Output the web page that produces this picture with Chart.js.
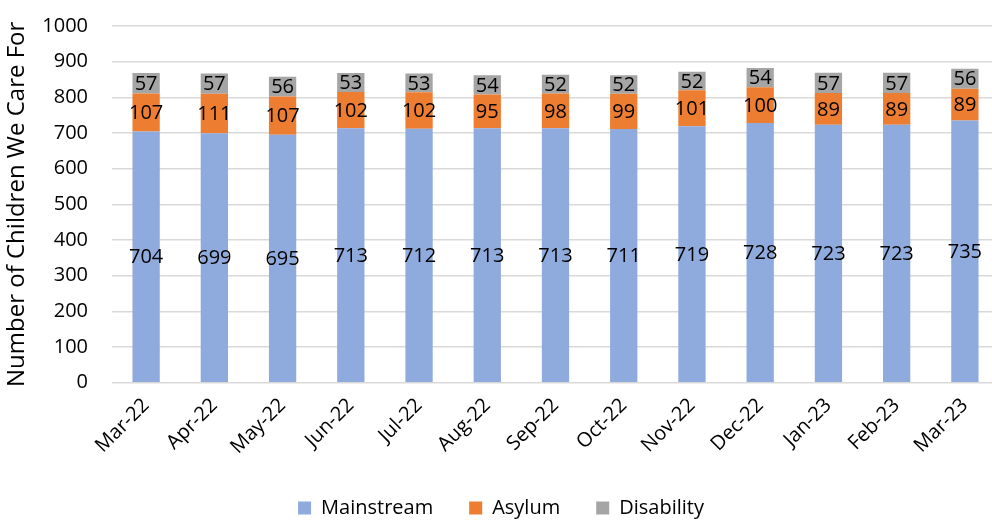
<!DOCTYPE html>
<html>
<head>
<meta charset="utf-8">
<script src="https://cdn.jsdelivr.net/npm/chart.js@4/dist/chart.umd.min.js"></script>
<style>
  html, body { margin: 0; padding: 0; background: #fff; overflow: hidden; }
  #frame { width: 992px; height: 521px; overflow: hidden; position: relative; }
  #wrap { width: 999px; height: 538px; position: absolute; left: 0; top: -10px; }
</style>
</head>
<body>
<div id="frame"><div id="wrap"><canvas id="childrenChart"></canvas></div></div>
<script>
// chart data
const months = ['Mar-22','Apr-22','May-22','Jun-22','Jul-22','Aug-22','Sep-22','Oct-22','Nov-22','Dec-22','Jan-23','Feb-23','Mar-23'];
const mainstream = [704,699,695,713,712,713,713,711,719,728,723,723,735];
const asylum = [107,111,107,102,102,95,98,99,101,100,89,89,89];
const disability = [57,57,56,53,53,54,52,52,52,54,57,57,56];

const FONT = '"Open Sans", Lato, sans-serif';
const SIZE = 20;

// draws each value in the middle of its bar segment
const segmentLabels = {
  id: 'segmentLabels',
  afterDatasetsDraw(chart) {
    const ctx = chart.ctx;
    ctx.save();
    ctx.font = SIZE + 'px ' + FONT;
    ctx.fillStyle = '#000';
    ctx.textAlign = 'center';
    ctx.textBaseline = 'middle';
    chart.data.datasets.forEach((ds, i) => {
      const meta = chart.getDatasetMeta(i);
      meta.data.forEach((bar, j) => {
        const p = bar.getProps(['x', 'y', 'base'], true);
        ctx.fillText(ds.data[j], p.x, (p.y + p.base) / 2 + 1);
      });
    });
    ctx.restore();
  }
};

const ctx = document.getElementById('childrenChart').getContext('2d');
new Chart(ctx, {
  type: 'bar',
  data: {
    labels: months,
    datasets: [
      { label: 'Mainstream', data: mainstream, backgroundColor: '#8FAADC' },
      { label: 'Asylum', data: asylum, backgroundColor: '#ED7D31' },
      { label: 'Disability', data: disability, backgroundColor: '#A5A5A5' }
    ]
  },
  options: {
    responsive: true,
    maintainAspectRatio: false,
    animation: false,
    layout: { padding: { top: 0, right: 0, left: 3, bottom: 0 } },
    datasets: { bar: { barPercentage: 0.4, categoryPercentage: 1.0 } },
    plugins: {
      tooltip: { enabled: false },
      legend: {
        position: 'bottom',
        labels: {
          font: { family: FONT, size: SIZE },
          color: '#000',
          boxWidth: 13,
          boxHeight: 13,
          padding: 36
        }
      }
    },
    scales: {
      x: {
        stacked: true,
        grid: { display: false },
        border: { color: '#D9D9D9' },
        afterFit(scale) {
          scale.paddingLeft = 0;
          scale.paddingRight = 0;
        },
        ticks: {
          font: { family: FONT, size: SIZE },
          color: '#000',
          minRotation: 45,
          maxRotation: 45,
          autoSkip: false
        }
      },
      y: {
        stacked: true,
        min: 0,
        max: 1000,
        grid: { color: '#D9D9D9', lineWidth: 1.5, drawTicks: false },
        border: { display: false },
        afterFit(scale) {
          scale.width = 109;
        },
        ticks: {
          stepSize: 100,
          padding: 24,
          font: { family: FONT, size: SIZE },
          color: '#000',
          callback: v => String(v)
        },
        title: {
          display: true,
          text: 'Number of Children We Care For',
          font: { family: FONT, size: 24 },
          color: '#000',
          padding: { top: 0, bottom: 11 }
        }
      }
    }
  },
  plugins: [segmentLabels]
});
</script>
</body>
</html>
